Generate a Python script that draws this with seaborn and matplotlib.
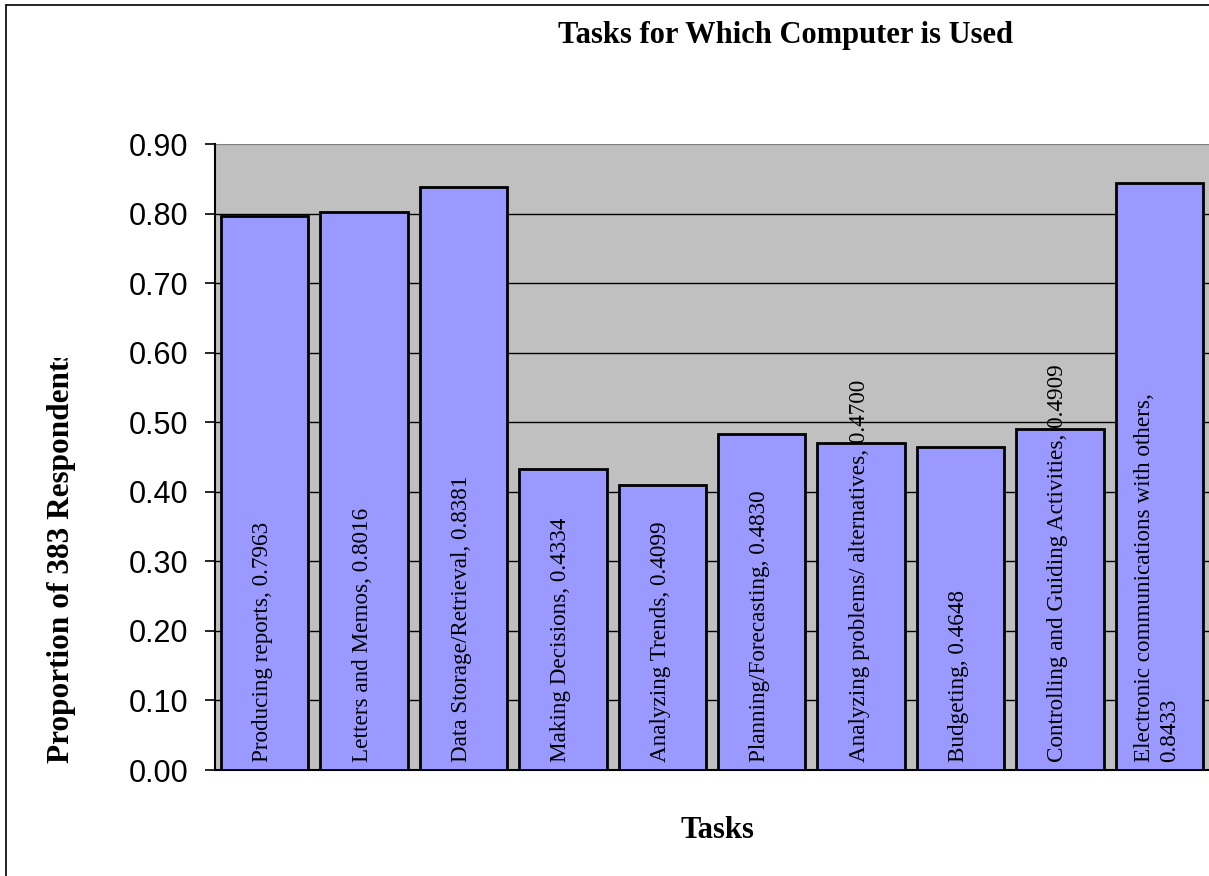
import matplotlib
matplotlib.use("Agg")
import matplotlib.pyplot as plt
from matplotlib.lines import Line2D
from matplotlib.transforms import Bbox, TransformedBbox
import seaborn as sns
import pandas as pd

# Survey results: share of respondents using the computer for each task
tasks = [
    "Producing reports",
    "Letters and Memos",
    "Data Storage/Retrieval",
    "Making Decisions",
    "Analyzing Trends",
    "Planning/Forecasting",
    "Analyzing problems/ alternatives",
    "Budgeting",
    "Controlling and Guiding Activities",
    "Electronic communications with others",
]
proportions = [0.7963, 0.8016, 0.8381, 0.4334, 0.4099, 0.4830, 0.4700, 0.4648, 0.4909, 0.8433]
# label text shown inside each bar (the long last one wraps onto a second line)
bar_labels = [f"{t}, {v:.4f}" for t, v in zip(tasks, proportions)]
bar_labels[-1] = f"{tasks[-1]},\n{proportions[-1]:.4f}"
y_ticks = [0.0, 0.1, 0.2, 0.3, 0.4, 0.5, 0.6, 0.7, 0.8, 0.9]

df = pd.DataFrame({"task": tasks, "proportion": proportions})

sns.set_theme(style="white")
plt.rcParams.update({"text.color": "black", "axes.labelcolor": "black",
                     "xtick.color": "black", "ytick.color": "black"})
W, H = 1209, 876
fig = plt.figure(figsize=(W / 100, H / 100), dpi=100)
fig.patch.set_facecolor("white")

# plot area in pixel terms: left 215, top 144, bottom 770, runs to the right edge
ax = fig.add_axes([215 / W, (H - 770) / H, 994 / W, (770 - 144) / H])
ax.set_facecolor("#C0C0C0")

sns.barplot(data=df, x="task", y="proportion", color="#9999FF", saturation=1,
            edgecolor="black", linewidth=2, width=0.88, ax=ax, zorder=3)

ax.set_xlim(-0.5, len(tasks) - 0.5)
ax.set_ylim(0, 0.9)
ax.set_yticks(y_ticks)
ax.set_yticklabels([f"{t:.2f}" for t in y_ticks], family="Liberation Sans", fontsize=22,
                   color="black")
ax.tick_params(axis="y", length=7, width=1.2, color="black", pad=12, left=True)
ax.tick_params(axis="x", bottom=False, labelbottom=False)
ax.set_xlabel("")
ax.set_ylabel("")

ax.set_axisbelow(True)
ax.yaxis.grid(True, color="black", linewidth=1.0)
ax.get_ygridlines()[-1].set_color("#808080")

for side in ("top", "right"):
    ax.spines[side].set_visible(False)
ax.spines["left"].set_color("black")
ax.spines["left"].set_linewidth(1.5)
ax.spines["bottom"].set_color("black")
ax.spines["bottom"].set_linewidth(1.5)

# vertical value labels inside the bars
for i, lab in enumerate(bar_labels):
    ax.annotate(lab, xy=(i, 0), xytext=(-1.5, 5.5), textcoords="offset points",
                rotation=90, ha="center", va="bottom", multialignment="left",
                family="Liberation Serif", fontsize=16.7, color="black",
                linespacing=1.25, zorder=5, annotation_clip=False)

# titles
fig.text(786 / W, 1 - 36 / H, "Tasks for Which Computer is Used", ha="center", va="center",
         family="Liberation Serif", fontweight="bold", fontsize=22, color="black")
fig.text(717 / W, 1 - 831 / H, "Tasks", ha="center", va="center",
         family="Liberation Serif", fontweight="bold", fontsize=22, color="black")
# the axis title box is narrower than its text, so the end is cut off
ylab = fig.text(62 / W, (H - 763) / H, "Proportion of 383 Respondents", rotation=90,
                ha="center", va="bottom", family="Liberation Serif", fontweight="bold",
                fontsize=22.5, color="black")
ylab.set_clip_box(TransformedBbox(Bbox([[0, 0], [1, (H - 358) / H]]), fig.transFigure))
ylab.set_clip_on(True)

# outer chart border (top and left edges)
fig.add_artist(Line2D([6 / W, 6 / W], [0, 1 - 5 / H], transform=fig.transFigure,
                      color="black", linewidth=1.2))
fig.add_artist(Line2D([6 / W, 1], [1 - 5 / H, 1 - 5 / H], transform=fig.transFigure,
                      color="black", linewidth=1.2))

fig.savefig("out.png", dpi=100)
